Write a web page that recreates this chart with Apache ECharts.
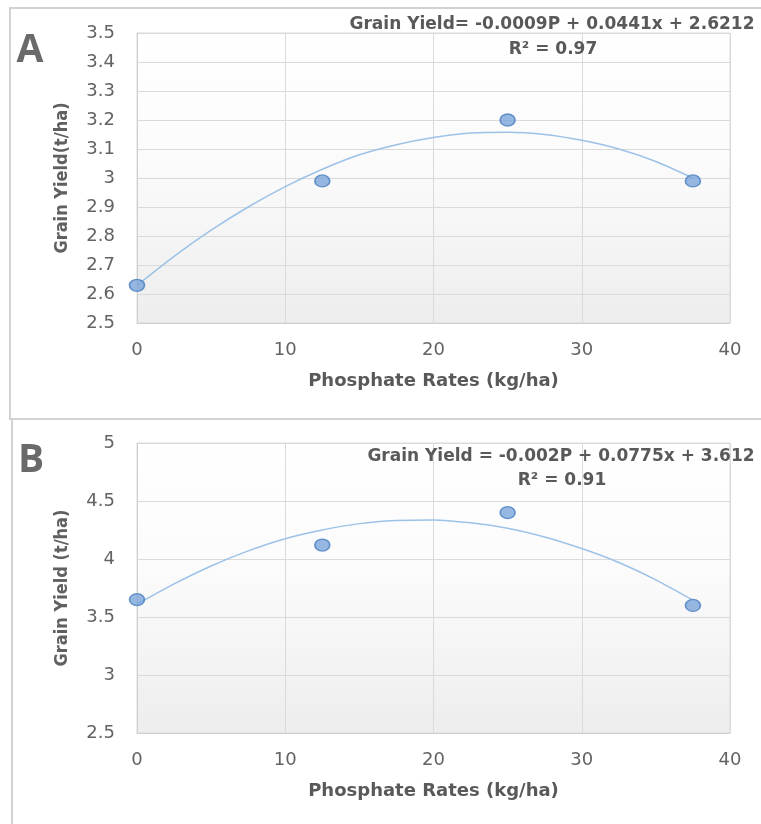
<!DOCTYPE html>
<html>
<head>
<meta charset="utf-8">
<script src="https://cdn.jsdelivr.net/npm/echarts@6/dist/echarts.min.js"></script>
<style>
  html, body { margin: 0; padding: 0; background: #ffffff; }
  #chart { width: 761px; height: 824px; }
</style>
</head>
<body>
<div id="chart"></div>
<script>
// ---- data ----
const phosphateRates = [0, 12.5, 25, 37.5];
const yieldA = [2.63, 2.99, 3.2, 2.99];
const yieldB = [3.65, 4.12, 4.4, 3.6];
// trend line (2nd-order polynomial)
const trendX = [0, 2.5, 5, 7.5, 10, 12.5, 15, 17.5, 20, 22.5, 25, 27.5, 30, 32.5, 35, 37.5];
const trendA = [2.63, 2.73, 2.82, 2.90, 2.97, 3.03, 3.08, 3.115, 3.14, 3.155, 3.158, 3.15, 3.13, 3.10, 3.057, 3.0];
const trendB = [3.61, 3.785, 3.94, 4.07, 4.175, 4.25, 4.305, 4.332, 4.337, 4.312, 4.265, 4.19, 4.09, 3.97, 3.82, 3.645];
const xTicks = [0, 10, 20, 30, 40];
const yTicksA = [2.5, 2.6, 2.7, 2.8, 2.9, 3, 3.1, 3.2, 3.3, 3.4, 3.5];
const yTicksB = [2.5, 3, 3.5, 4, 4.5, 5];
const panelLabels = ['A', 'B'];
const equations = ['Grain Yield= -0.0009P + 0.0441x + 2.6212', 'Grain Yield = -0.002P + 0.0775x + 3.612'];
const r2Labels = ['R\u00b2 = 0.97', 'R\u00b2 = 0.91'];
const xAxisTitle = 'Phosphate Rates (kg/ha)';
const yAxisTitles = ['Grain Yield(t/ha)', 'Grain Yield (t/ha)'];

const chart = echarts.init(document.getElementById('chart'), null, { renderer: 'canvas' });

const tickColor = '#636363';
const gridLineColor = '#dadada';
const plotBg = { type: 'linear', x: 0, y: 0, x2: 0, y2: 1,
  colorStops: [{ offset: 0, color: '#ffffff' }, { offset: 0.45, color: '#fbfbfb' }, { offset: 1, color: '#ededed' }] };

function zip(xs, ys) { return xs.map((x, i) => [x, ys[i]]); }

function xAxisFor(gi) {
  return {
    type: 'value', gridIndex: gi, min: xTicks[0], max: xTicks[xTicks.length - 1], interval: 10,
    axisLine: { show: true, lineStyle: { color: '#cfcfcf', width: 1 } },
    axisTick: { show: false },
    splitLine: { show: true, lineStyle: { color: gridLineColor, width: 1 } },
    axisLabel: { color: tickColor, fontFamily: 'DejaVu Sans', fontSize: 18, margin: 18 },
    name: xAxisTitle, nameLocation: 'middle', nameGap: 49,
    nameTextStyle: { color: '#595959', fontFamily: 'DejaVu Sans', fontWeight: 'bold', fontSize: 18 }
  };
}
function yAxisFor(gi, ticks, interval, title) {
  return {
    type: 'value', gridIndex: gi, min: ticks[0], max: ticks[ticks.length - 1], interval: interval,
    axisLine: { show: true, lineStyle: { color: '#cfcfcf', width: 1 } },
    axisTick: { show: false },
    splitLine: { show: true, lineStyle: { color: gridLineColor, width: 1 } },
    axisLabel: { color: tickColor, fontFamily: 'DejaVu Sans', fontSize: 18, margin: 22 },
    name: title, nameLocation: 'middle', nameGap: 66,
    nameTextStyle: { color: '#606060', fontFamily: 'DejaVu Sans Condensed', fontWeight: 'bold', fontSize: 18 }
  };
}

function scatterSeries(xi, data) {
  return {
    type: 'scatter', xAxisIndex: xi, yAxisIndex: xi, data: data,
    symbol: 'circle', symbolSize: [15, 12], z: 5,
    itemStyle: { color: '#7ba5da', borderColor: '#4a7fc1', borderWidth: 1.5 }
  };
}
function trendSeries(xi, data) {
  return {
    type: 'line', xAxisIndex: xi, yAxisIndex: xi, data: data, smooth: 0.2,
    showSymbol: false, symbol: 'none', z: 3,
    lineStyle: { color: '#9cc2e8', width: 1.5 }
  };
}

const panelTops = [8, 419];
const eqPos = [[552, 25, 553, 50], [561, 457, 562, 481]];
const labelPos = [[30, 51], [31, 461]];

const graphics = [];
panelTops.forEach((t, i) => {
  graphics.push({
    type: 'rect', z: -10, silent: true,
    shape: { x: 10 + i * 2, y: t, width: 800, height: (i === 0 ? 411 : 420) },
    style: { fill: '#ffffff', stroke: '#d2d2d2', lineWidth: 2 }
  });
  graphics.push({
    type: 'text', z: 20, x: labelPos[i][0], y: labelPos[i][1],
    style: { text: panelLabels[i], fill: '#6a6a6a', font: 'bold 39px "Open Sans"', textAlign: 'center', textVerticalAlign: 'middle' }
  });
  graphics.push({
    type: 'text', z: 20, x: eqPos[i][0], y: eqPos[i][1],
    style: { text: equations[i], fill: '#595959', font: 'bold 17px "DejaVu Sans"', textAlign: 'center', textVerticalAlign: 'middle' }
  });
  graphics.push({
    type: 'text', z: 20, x: eqPos[i][2], y: eqPos[i][3],
    style: { text: r2Labels[i], fill: '#595959', font: 'bold 17px "DejaVu Sans"', textAlign: 'center', textVerticalAlign: 'middle' }
  });
});

const option = {
  backgroundColor: '#ffffff',
  animation: false,
  grid: [
    { left: 137, top: 33, width: 593, height: 290, show: true, backgroundColor: plotBg, borderColor: gridLineColor, borderWidth: 1 },
    { left: 137, top: 443, width: 593, height: 290, show: true, backgroundColor: plotBg, borderColor: gridLineColor, borderWidth: 1 }
  ],
  xAxis: [xAxisFor(0), xAxisFor(1)],
  yAxis: [yAxisFor(0, yTicksA, 0.1, yAxisTitles[0]), yAxisFor(1, yTicksB, 0.5, yAxisTitles[1])],
  series: [
    trendSeries(0, zip(trendX, trendA)),
    scatterSeries(0, zip(phosphateRates, yieldA)),
    trendSeries(1, zip(trendX, trendB)),
    scatterSeries(1, zip(phosphateRates, yieldB))
  ],
  graphic: { elements: graphics }
};
chart.setOption(option);
</script>
</body>
</html>
